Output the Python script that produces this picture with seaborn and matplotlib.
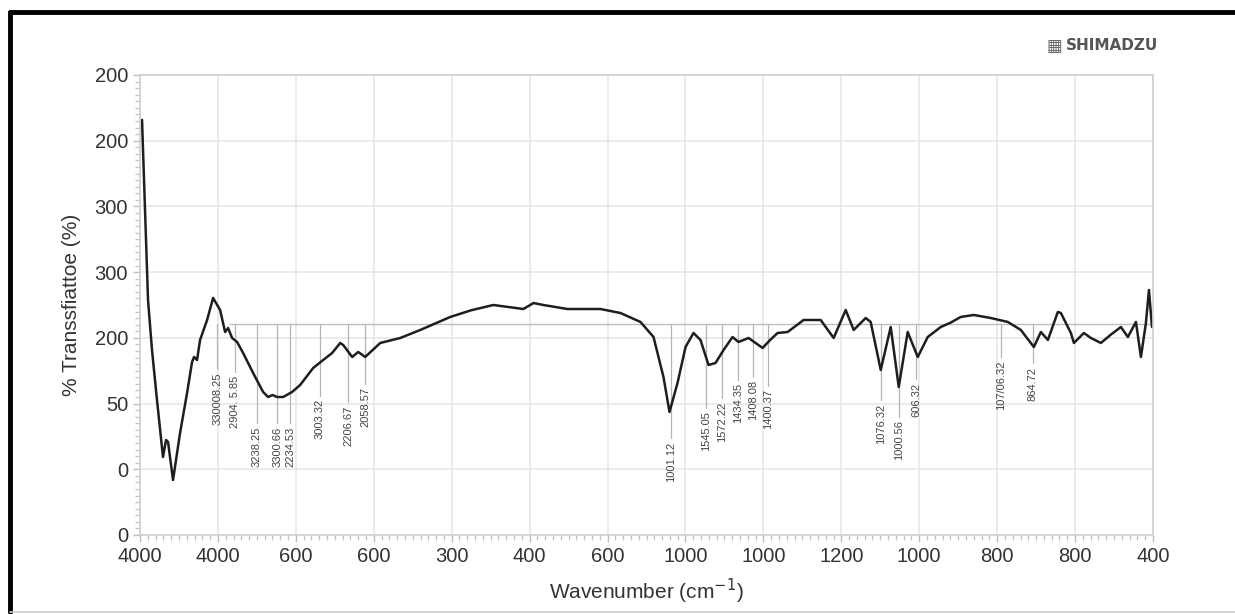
import numpy as np
import pandas as pd
import matplotlib
matplotlib.use("Agg")
import matplotlib.pyplot as plt
import seaborn as sns
from matplotlib.lines import Line2D

# ---------------- data (axis units: x = tick index, y = tick index) ----------------
x_tick_labels = ["4000", "4000", "600", "600", "300", "400", "600",
                 "1000", "1000", "1200", "1000", "800", "800", "400"]
y_tick_labels = ["0", "0", "50", "200", "300", "300", "200", "200"]

spec_x = [0.026, 0.103, 0.154, 0.218, 0.295, 0.334, 0.360, 0.385, 0.424, 0.514,
          0.604, 0.668, 0.694, 0.732, 0.771, 0.861, 0.938, 1.028, 1.092, 1.130,
          1.182, 1.246, 1.323, 1.452, 1.580, 1.644, 1.700, 1.760, 1.837, 1.952,
          2.055, 2.222, 2.351, 2.466, 2.569, 2.608, 2.723, 2.800, 2.890, 3.083,
          3.340, 3.597, 3.982, 4.250, 4.534, 4.920, 5.050, 5.177, 5.485, 5.909, 6.166,
          6.423, 6.590, 6.718, 6.795, 6.898, 7.001, 7.103, 7.193, 7.296, 7.386,
          7.489, 7.604, 7.681, 7.810, 7.990, 8.080, 8.182, 8.311, 8.516, 8.735, 8.902,
          9.056, 9.159, 9.313, 9.377, 9.506, 9.634, 9.737, 9.852, 9.981, 10.109,
          10.276, 10.400, 10.533, 10.700, 10.918, 11.137, 11.304, 11.471, 11.561, 11.651, 11.779,
          11.818, 11.946, 11.985, 12.113, 12.203, 12.331, 12.460, 12.588, 12.678, 12.781,
          12.845, 12.909, 12.948, 12.987]
spec_y = [6.316, 3.576, 2.815, 2.054, 1.187, 1.446, 1.415, 1.187, 0.837, 1.552,
          2.161, 2.633, 2.709, 2.663, 2.968, 3.272, 3.607, 3.424, 3.089, 3.150,
          2.998, 2.937, 2.770, 2.465, 2.176, 2.100, 2.130, 2.100, 2.100, 2.176,
          2.283, 2.541, 2.663, 2.770, 2.922, 2.891, 2.709, 2.785, 2.709, 2.922,
          2.998, 3.120, 3.318, 3.420, 3.500, 3.439, 3.530, 3.500, 3.439, 3.439, 3.378,
          3.242, 3.013, 2.404, 1.872, 2.313, 2.861, 3.074, 2.968, 2.587, 2.618,
          2.815, 3.013, 2.937, 2.998, 2.846, 2.960, 3.074, 3.089, 3.272, 3.272, 2.998,
          3.424, 3.120, 3.302, 3.242, 2.511, 3.165, 2.252, 3.089, 2.709, 3.013,
          3.165, 3.230, 3.318, 3.348, 3.302, 3.242, 3.120, 2.861, 3.089, 2.968, 3.394,
          3.378, 3.074, 2.922, 3.074, 2.998, 2.922, 3.050, 3.165, 3.013, 3.242,
          2.709, 3.226, 3.729, 3.165]

peak_labels = ["330008.25", "2904. 5.85", "3238.25", "3300.66", "2234.53", "3003.32",
               "2206.67", "2058.57", "1001.12", "1545.05", "1572.22", "1434.35",
               "1408.08", "1400.37", "1076.32", "1000.56", "606.32", "107/06.32", "864.72"]
peak_x = [0.989, 1.220, 1.500, 1.760, 1.930, 2.310, 2.670, 2.890, 6.810, 7.260,
          7.470, 7.680, 7.870, 8.060, 9.510, 9.740, 9.960, 11.050, 11.460]
label_top = [2.48, 2.43, 1.65, 1.65, 1.65, 2.07, 1.97, 2.25, 1.42, 1.88,
             2.03, 2.31, 2.36, 2.22, 2.00, 1.75, 2.32, 2.66, 2.56]
threshold_y = 3.21
logo_text = "SHIMADZU"

# ---------------- figure ----------------
sns.set_style("white")
plt.rcParams["font.family"] = ["Liberation Sans", "DejaVu Sans"]

W, H = 1235, 614
fig = plt.figure(figsize=(W / 100, H / 100), dpi=100)
ax = fig.add_axes([140 / W, (H - 535) / H, (1153 - 140) / W, (535 - 75) / H])

df = pd.DataFrame({"x": spec_x, "y": spec_y})
sns.lineplot(data=df, x="x", y="y", ax=ax, color="#1e1e1e", linewidth=1.8,
             estimator=None, sort=False)

ax.set_xlim(0, 13)
ax.set_ylim(0, 7)
ax.set_xticks(range(14))
ax.set_xticklabels(x_tick_labels)
ax.set_yticks(range(8))
ax.set_yticklabels(y_tick_labels)
ax.set_xticks(np.arange(0, 13.001, 0.1), minor=True)
ax.set_yticks(np.arange(0, 7.001, 0.1), minor=True)
ax.tick_params(axis="both", which="both", bottom=True, left=True, direction="out")
ax.tick_params(axis="both", which="major", labelsize=14.5, colors="#bdbdbd",
               labelcolor="#333333", length=5, width=1)
ax.tick_params(axis="both", which="minor", colors="#c4c4c4", length=3.5, width=0.9)
ax.grid(True, which="major", color="#e6e6e6", linewidth=1.1)
for s in ax.spines.values():
    s.set_color("#cfcfcf")
    s.set_linewidth(1.2)

ax.set_xlabel("Wavenumber (cm$^{-1}$)", fontsize=15, color="#333333", labelpad=8)
ax.set_ylabel("% Transsfiattoe (%)", fontsize=15, color="#333333", labelpad=10)

# threshold line
ax.plot([1.156, 12.97], [threshold_y, threshold_y], color="#bdbdbd", linewidth=1.0, zorder=1)

# peak labels
for lab, px, top in zip(peak_labels, peak_x, label_top):
    ax.plot([px, px], [threshold_y, top + 0.05], color="#b5b5b5", linewidth=0.9, zorder=1)
    ax.text(px, top, lab, rotation=90, ha="center", va="top", fontsize=8,
            color="#444444", zorder=3)

# logo
fig.text(1046 / W, 1 - 46 / H, "\u25a6", fontsize=12, color="#666666",
         ha="left", va="center", family="DejaVu Sans")
fig.text(1066 / W, 1 - 46 / H, logo_text, fontsize=11, color="#555555",
         fontweight="bold", ha="left", va="center", family="DejaVu Sans")

# border frame
fig.add_artist(Line2D([10 / W, 10 / W], [1 - 12 / H, 1 - 612 / H], color="black",
                      linewidth=3.5, transform=fig.transFigure))
fig.add_artist(Line2D([10 / W, 1.0], [1 - 12 / H, 1 - 12 / H], color="black",
                      linewidth=3.5, transform=fig.transFigure))
fig.add_artist(Line2D([10 / W, 1.0], [1 - 612 / H, 1 - 612 / H], color="#cccccc",
                      linewidth=1.2, transform=fig.transFigure))

fig.savefig("out.png", dpi=100)
